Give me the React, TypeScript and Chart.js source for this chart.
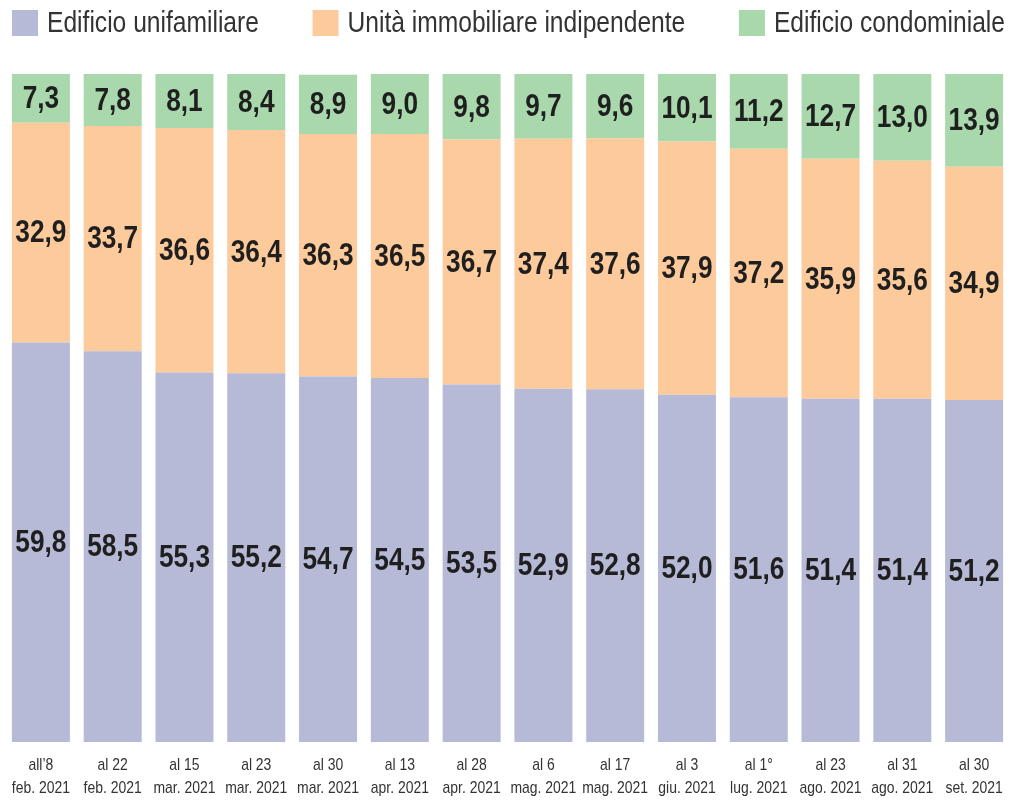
import React, { useEffect, useRef } from "react";
import { Chart, registerables } from "chart.js";

Chart.register(...registerables);

const categories: string[][] = [
  ["all’8", "feb. 2021"],
  ["al 22", "feb. 2021"],
  ["al 15", "mar. 2021"],
  ["al 23", "mar. 2021"],
  ["al 30", "mar. 2021"],
  ["al 13", "apr. 2021"],
  ["al 28", "apr. 2021"],
  ["al 6", "mag. 2021"],
  ["al 17", "mag. 2021"],
  ["al 3", "giu. 2021"],
  ["al 1°", "lug. 2021"],
  ["al 23", "ago. 2021"],
  ["al 31", "ago. 2021"],
  ["al 30", "set. 2021"],
];

const unifamiliare: number[] = [59.8, 58.5, 55.3, 55.2, 54.7, 54.5, 53.5, 52.9, 52.8, 52.0, 51.6, 51.4, 51.4, 51.2];
const indipendente: number[] = [32.9, 33.7, 36.6, 36.4, 36.3, 36.5, 36.7, 37.4, 37.6, 37.9, 37.2, 35.9, 35.6, 34.9];
const condominiale: number[] = [7.3, 7.8, 8.1, 8.4, 8.9, 9.0, 9.8, 9.7, 9.6, 10.1, 11.2, 12.7, 13.0, 13.9];

const seriesNames: string[] = ["Edificio unifamiliare", "Unità immobiliare indipendente", "Edificio condominiale"];
const seriesColors: string[] = ["#b6bad6", "#fdca9b", "#a8d8ac"];

const FONT = "'Liberation Sans', Arial, sans-serif";
const NARROW = 0.82;

const fmt = (v: number) => v.toFixed(1).replace(".", ",");

function narrowText(ctx: any, text: string, x: number, y: number, align: "left" | "center") {
  ctx.save();
  ctx.translate(x, y);
  ctx.scale(NARROW, 1);
  ctx.textAlign = align;
  ctx.fillText(text, 0, 0);
  ctx.restore();
}

function narrowWidth(ctx: any, text: string) {
  return ctx.measureText(text).width * NARROW;
}

const valueLabels = {
  id: "valueLabels",
  afterDatasetsDraw(chart: any) {
    const ctx = chart.ctx;
    ctx.save();
    ctx.font = `bold 32px ${FONT}`;
    ctx.fillStyle = "#1f1f1f";
    ctx.textBaseline = "middle";
    chart.data.datasets.forEach((ds: any, di: number) => {
      const meta = chart.getDatasetMeta(di);
      meta.data.forEach((el: any, i: number) => {
        const y = (el.y + el.base) / 2;
        narrowText(ctx, fmt(ds.data[i]), el.x, y + 1, "center");
      });
    });
    ctx.restore();
  },
};

const bottomTicks = {
  id: "bottomTicks",
  afterDraw(chart: any) {
    const ctx = chart.ctx;
    const xScale = chart.scales.x;
    ctx.save();
    ctx.font = `17px ${FONT}`;
    ctx.fillStyle = "#333333";
    ctx.textBaseline = "middle";
    const lines = [765, 788];
    (chart.data.labels as string[][]).forEach((lab, i) => {
      const x = xScale.getPixelForTick(i);
      lab.forEach((t, li) => narrowText(ctx, t, x, lines[li], "center"));
    });
    ctx.restore();
  },
};

const topLegend = {
  id: "topLegend",
  afterDraw(chart: any) {
    const ctx = chart.ctx;
    ctx.save();
    ctx.font = `30px ${FONT}`;
    ctx.textBaseline = "middle";
    const box = 26;
    const gapText = 9;
    const items = chart.data.datasets.map((ds: any) => ({
      text: ds.label,
      color: ds.backgroundColor,
      w: box + gapText + narrowWidth(ctx, ds.label),
    }));
    const startX = 12;
    const endX = 1005;
    const total = items.reduce((s: number, it: any) => s + it.w, 0);
    const gap = (endX - startX - total) / (items.length - 1);
    let x = startX;
    const yTop = 10;
    items.forEach((it: any) => {
      ctx.fillStyle = it.color;
      ctx.fillRect(x, yTop, box, box);
      ctx.fillStyle = "#333333";
      narrowText(ctx, it.text, x + box + gapText, yTop + box / 2 + 1, "left");
      x += it.w + gap;
    });
    ctx.restore();
  },
};

export default function App() {
  const ref = useRef<HTMLCanvasElement | null>(null);
  useEffect(() => {
    document.body.style.margin = "0";
    if (!ref.current) return;
    const chart = new Chart(ref.current, {
      type: "bar",
      data: {
        labels: categories,
        datasets: [
          { label: seriesNames[0], data: unifamiliare, backgroundColor: seriesColors[0] },
          { label: seriesNames[1], data: indipendente, backgroundColor: seriesColors[1] },
          { label: seriesNames[2], data: condominiale, backgroundColor: seriesColors[2] },
        ],
      },
      options: {
        responsive: false,
        animation: false,
        layout: { padding: { top: 74, left: 5, right: 0, bottom: 59 } },
        datasets: {
          bar: { barPercentage: 0.808, categoryPercentage: 1, borderWidth: 0 },
        },
        plugins: {
          legend: { display: false },
          tooltip: { enabled: false },
          title: { display: false },
        },
        scales: {
          x: {
            stacked: true,
            grid: { display: false, drawTicks: false },
            border: { display: false },
            ticks: { display: false },
          },
          y: {
            stacked: true,
            display: false,
            min: 0,
            max: 100,
          },
        },
      },
      plugins: [valueLabels, bottomTicks, topLegend],
    } as any);
    return () => chart.destroy();
  }, []);
  return (
    <div style={{ width: 1010, height: 801, background: "#ffffff" }}>
      <canvas ref={ref} width={1010} height={801} style={{ display: "block" }} />
    </div>
  );
}
